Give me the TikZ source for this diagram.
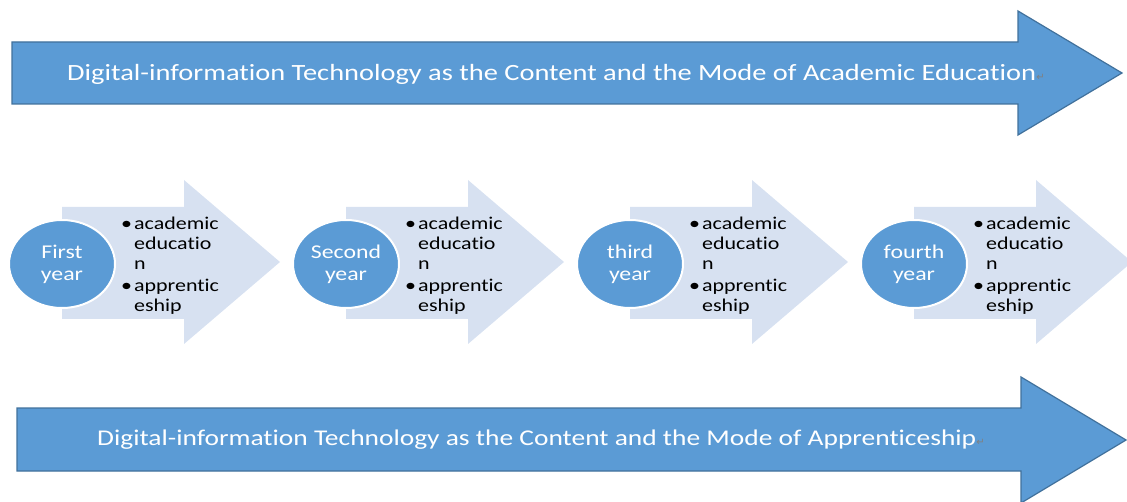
\documentclass[tikz,border=0pt]{standalone}
\usepackage{fontspec}
\setmainfont{Carlito}[FakeStretch=1.22,Ligatures={NoCommon,NoContextual},Contextuals=NoAlternate]
\newfontfamily\markfont{DejaVu Sans}
\usetikzlibrary{shapes.geometric}

\definecolor{officeblue}{HTML}{5B9BD5}
\definecolor{officeedge}{HTML}{41719C}
\definecolor{paleblue}{HTML}{D7E1F1}

\tikzset{
  bandarrow/.style={fill=officeblue,draw=officeedge,line width=1.2pt,line join=miter},
  bandtext/.style={anchor=west,inner sep=0pt,text=white},
  steparrow/.style={fill=paleblue},
  yearcircle/.style={ellipse,fill=officeblue,draw=white,line width=2pt,
    minimum width=106pt,minimum height=88pt,inner sep=0pt,
    text=white,align=center,font=\fontsize{19.5}{22}\selectfont},
  itemlist/.style={anchor=north west,inner sep=0pt,font=\fontsize{18}{20}\selectfont}
}

% paragraph mark after the band texts
\newcommand\retmark{{\markfont\color{gray}\fontsize{10}{10}\selectfont ↵}}
% the two items in each step
\newcommand\yearitems{\begin{tabular}{@{}l@{\hspace{2pt}}l@{}}
  \textbullet & academic\\ & educatio\\ & n\\[2pt]
  \textbullet & apprentic\\ & eship
\end{tabular}}

\begin{document}
\begin{tikzpicture}[x=1pt,y=1pt]
        \useasboundingbox (0,0) rectangle (1127,501);
        \clip (0,0) rectangle (1127,501);

        % upper band
        \draw[bandarrow] (12,397) -- (12,459) -- (1018,459) -- (1018,490) -- (1122,428)
          -- (1018,366) -- (1018,397) -- cycle;
        \node[bandtext,font=\fontsize{23.3}{26}\selectfont] (upper) at (67,427) {Digital-information Technology as the Content and the Mode of Academic Education\retmark};

        % lower band
        \draw[bandarrow] (17,30) -- (17,93) -- (1021,93) -- (1021,124) -- (1126,61)
          -- (1021,-2) -- (1021,30) -- cycle;
        \node[bandtext,font=\fontsize{22.5}{26}\selectfont] (lower) at (97,61) {Digital-information Technology as the Content and the Mode of Apprenticeship\retmark};

        % first year
        \fill[steparrow] (62,182) -- (62,294) -- (184,294) -- (184,321) -- (280,239)
          -- (184,157) -- (184,182) -- cycle;
        \node[yearcircle] (first) at (62,237) {First\\year};
        \node[itemlist] (firstitems) at (121,286) {\yearitems};

        % second year
        \fill[steparrow] (346,182) -- (346,294) -- (468,294) -- (468,321) -- (564,239)
          -- (468,157) -- (468,182) -- cycle;
        \node[yearcircle] (second) at (346,237) {Second\\year};
        \node[itemlist] (seconditems) at (405,286) {\yearitems};

        % third year
        \fill[steparrow] (630,182) -- (630,294) -- (752,294) -- (752,321) -- (848,239)
          -- (752,157) -- (752,182) -- cycle;
        \node[yearcircle] (third) at (630,237) {third\\year};
        \node[itemlist] (thirditems) at (689,286) {\yearitems};

        % fourth year
        \fill[steparrow] (914,182) -- (914,294) -- (1036,294) -- (1036,321) -- (1132,239)
          -- (1036,157) -- (1036,182) -- cycle;
        \node[yearcircle] (fourth) at (914,237) {fourth\\year};
        \node[itemlist] (fourthitems) at (973,286) {\yearitems};
    \end{tikzpicture}
\end{document}
